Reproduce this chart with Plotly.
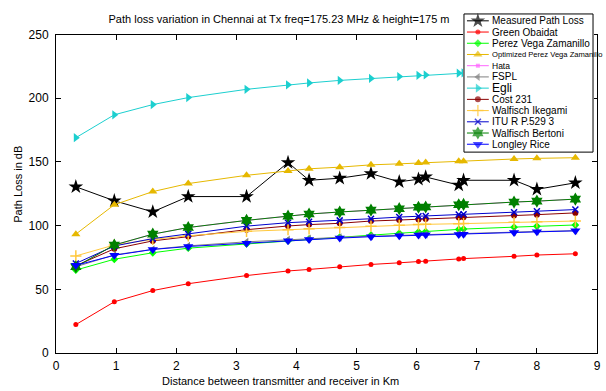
import plotly.graph_objects as go

# ---------------- data ----------------
distance_km = [0.33, 0.97, 1.61, 2.20, 3.17, 3.86, 4.21, 4.72, 5.24, 5.71, 6.03, 6.15, 6.70, 6.78, 7.62, 8.00, 8.64]

measured = [130.5, 119.5, 110.8, 122.8, 122.8, 149.5, 135.6, 137.2, 140.8, 134.4, 136.4, 138.2, 131.8, 135.6, 135.6, 128.5, 133.6]
green_obaidat = [22.3, 40.2, 49.0, 54.4, 60.8, 64.4, 65.6, 67.7, 69.5, 70.8, 71.8, 72.1, 73.8, 74.1, 75.9, 76.9, 77.9]
perez_vega = [65.1, 73.6, 78.7, 82.3, 85.6, 88.0, 89.5, 91.0, 92.5, 94.0, 95.0, 95.3, 97.0, 97.3, 98.8, 99.5, 100.5]
opt_perez_vega = [93.3, 116.4, 126.7, 133.0, 139.5, 142.8, 144.6, 145.9, 147.7, 148.5, 149.2, 149.5, 150.5, 150.6, 152.3, 152.8, 153.3]
hata = [67.7, 84.8, 93.3, 98.5, 104.1, 107.4, 109.1, 110.7, 112.2, 113.3, 114.4, 114.6, 116.4, 116.6, 118.5, 119.2, 120.8]
fspl = [67.7, 77.0, 81.4, 84.1, 87.3, 89.0, 89.8, 90.8, 91.7, 92.4, 92.9, 93.1, 93.8, 93.9, 94.9, 95.4, 96.0]
egli = [169.0, 187.0, 195.0, 200.5, 207.0, 210.5, 212.0, 214.0, 215.5, 217.0, 218.0, 218.3, 219.7, 220.0, 222.0, 222.8, 224.2]
cost231 = [68.5, 81.8, 88.0, 91.5, 96.8, 99.7, 100.8, 101.8, 103.6, 104.4, 104.9, 105.2, 106.3, 106.5, 107.9, 108.6, 110.0]
walfisch_ikegami = [76.2, 84.8, 89.2, 92.0, 95.5, 96.8, 97.5, 98.5, 99.6, 100.3, 100.8, 101.0, 101.5, 101.6, 102.6, 103.0, 103.6]
itu = [70.3, 84.0, 89.8, 93.5, 99.6, 102.3, 103.0, 104.1, 105.4, 106.7, 107.4, 107.6, 108.7, 108.9, 110.5, 111.3, 112.6]
walfisch_bertoni = [67.7, 84.8, 93.3, 98.5, 104.1, 107.4, 109.1, 110.7, 112.2, 113.3, 114.4, 114.6, 116.4, 116.6, 118.5, 119.2, 120.8]
longley_rice = [68.8, 76.7, 81.3, 83.6, 86.2, 88.2, 89.2, 90.2, 91.3, 92.0, 92.6, 92.8, 93.1, 93.3, 94.6, 95.1, 95.9]

series_names = ["Measured Path Loss", "Green Obaidat", "Perez Vega Zamanillo",
                "Optimized Perez Vega Zamanillo", "Hata", "FSPL", "Egli", "Cost 231",
                "Walfisch Ikegami", "ITU R P.529 3", "Walfisch Bertoni", "Longley Rice"]
series_values = [measured, green_obaidat, perez_vega, opt_perez_vega, hata, fspl, egli,
                 cost231, walfisch_ikegami, itu, walfisch_bertoni, longley_rice]

x_ticks = [0, 1, 2, 3, 4, 5, 6, 7, 8, 9]
y_ticks = [0, 50, 100, 150, 200, 250]

# ---------------- styles ----------------
styles = [
    dict(color="#000000", symbol="star", size=11, lw=1),
    dict(color="#FF0000", symbol="circle", size=5, lw=1),
    dict(color="#00FF00", symbol="diamond", size=6, lw=1),
    dict(color="#E6B800", symbol="triangle-up", size=8, lw=1),
    dict(color="#FF66FF", symbol="square", size=4, lw=1),
    dict(color="#808080", symbol="triangle-left", size=7, lw=1),
    dict(color="#1CCFCF", symbol="triangle-right", size=8, lw=1),
    dict(color="#8B0000", symbol="circle", size=6, lw=1),
    dict(color="#FFC83C", symbol="cross-thin", size=8, lw=1),
    dict(color="#0000CC", symbol="x-thin", size=6, lw=1),
    dict(color="#008000", symbol="hexagram", size=10, lw=1),
    dict(color="#0000FF", symbol="triangle-down", size=9, lw=1),
]
legend_labels = [
    "Measured Path Loss", "Green Obaidat", "Perez Vega Zamanillo",
    "<span style='font-size:7.6px'>Optimized Perez Vega Zamanillo</span>",
    "<span style='font-size:8.5px'>Hata</span>", "FSPL",
    "<span style='font-size:12px'>Egli</span>", "Cost 231", "Walfisch Ikegami",
    "ITU R P.529 3", "Walfisch Bertoni", "Longley Rice",
]

fig = go.Figure()

for name, vals, st in zip(series_names, series_values, styles):
    thin = st["symbol"] in ("cross-thin", "x-thin")
    fig.add_trace(go.Scatter(
        x=distance_km, y=vals, name=name, mode="lines+markers",
        line=dict(color=st["color"], width=st["lw"]),
        marker=dict(symbol=st["symbol"], size=st["size"], color=st["color"],
                    line=dict(color=st["color"], width=1.5 if thin else 0)),
        xaxis="x", yaxis="y", showlegend=False, cliponaxis=True,
    ))

# ---------------- custom compact legend (separate subplot on top) ----------------
L_X0, L_X1, L_Y0, L_Y1 = 467, 597, 7, 148
fig.add_trace(go.Scatter(
    x=[L_X0, L_X1, L_X1, L_X0, L_X0], y=[L_Y0, L_Y0, L_Y1, L_Y1, L_Y0],
    mode="lines", fill="toself", fillcolor="white",
    line=dict(color="black", width=1), xaxis="x2", yaxis="y2",
    showlegend=False, hoverinfo="skip",
))
row0, row_step = 14.0, 11.45
for i, (lab, st) in enumerate(zip(legend_labels, styles)):
    yy = row0 + i * row_step
    thin = st["symbol"] in ("cross-thin", "x-thin")
    fig.add_trace(go.Scatter(
        x=[470, 481, 492], y=[yy, yy, yy], mode="lines+markers",
        line=dict(color=st["color"], width=1),
        marker=dict(symbol=st["symbol"], size=[0, st["size"], 0], color=st["color"],
                    line=dict(color=st["color"], width=1.5 if thin else 0)),
        xaxis="x2", yaxis="y2", showlegend=False, hoverinfo="skip",
    ))
    fig.add_annotation(x=494, y=yy, xref="x2", yref="y2", text=lab, showarrow=False,
                       xanchor="left", yanchor="middle", borderpad=0,
                       font=dict(size=10, color="black"))

W, H = 606, 391
ML, MR, MT, MB = 56, 5, 5, 38
paper_h = H - MT - MB
plot_top_px = 28
main_top = (H - MB - plot_top_px) / paper_h  # fraction of paper


def px_to_paper_x(px):
    return (px - ML) / (W - ML - MR)


def px_to_paper_y(py):
    return (H - MB - py) / paper_h


axis_common = dict(showgrid=False, zeroline=False, showline=True, linecolor="black",
                   linewidth=1, mirror="ticks", ticks="inside", ticklen=5,
                   tickcolor="black", tickfont=dict(size=12, color="black"))

fig.update_layout(
    width=W, height=H,
    margin=dict(l=ML, r=MR, t=MT, b=MB, pad=0),
    paper_bgcolor="white", plot_bgcolor="white",
    font=dict(family="Liberation Sans, Arial, sans-serif", color="black"),
    hovermode=False,
    title=dict(text="Path loss variation in Chennai at Tx freq=175.23 MHz & height=175 m",
               x=279 / W, xanchor="center", xref="container",
               y=1 - 19 / H, yanchor="middle", yref="container",
               font=dict(size=11, color="black")),
    xaxis=dict(range=[0, 9], tickvals=x_ticks, domain=[0, 1], anchor="y",
               ticklabelstandoff=2, **axis_common),
    yaxis=dict(range=[0, 250], tickvals=y_ticks, domain=[0, main_top], anchor="x",
               ticklabelstandoff=4, **axis_common),
    xaxis2=dict(range=[L_X0 - 1, L_X1 + 1], domain=[px_to_paper_x(L_X0 - 1), px_to_paper_x(L_X1 + 1)],
                visible=False, anchor="y2", fixedrange=True),
    yaxis2=dict(range=[L_Y1 + 1, L_Y0 - 1], domain=[px_to_paper_y(L_Y1 + 1), px_to_paper_y(L_Y0 - 1)],
                visible=False, anchor="x2", fixedrange=True),
    showlegend=False,
)

fig.add_annotation(text="Distance between transmitter and receiver in Km",
                   x=px_to_paper_x(282), y=px_to_paper_y(382), xref="paper", yref="paper",
                   showarrow=False, xanchor="center", yanchor="middle",
                   font=dict(size=11, color="black"))
fig.add_annotation(text="Path Loss in dB", textangle=-90,
                   x=px_to_paper_x(18), y=px_to_paper_y(181), xref="paper", yref="paper",
                   showarrow=False, xanchor="center", yanchor="middle",
                   font=dict(size=11, color="black"))

fig.write_html("out.html")
